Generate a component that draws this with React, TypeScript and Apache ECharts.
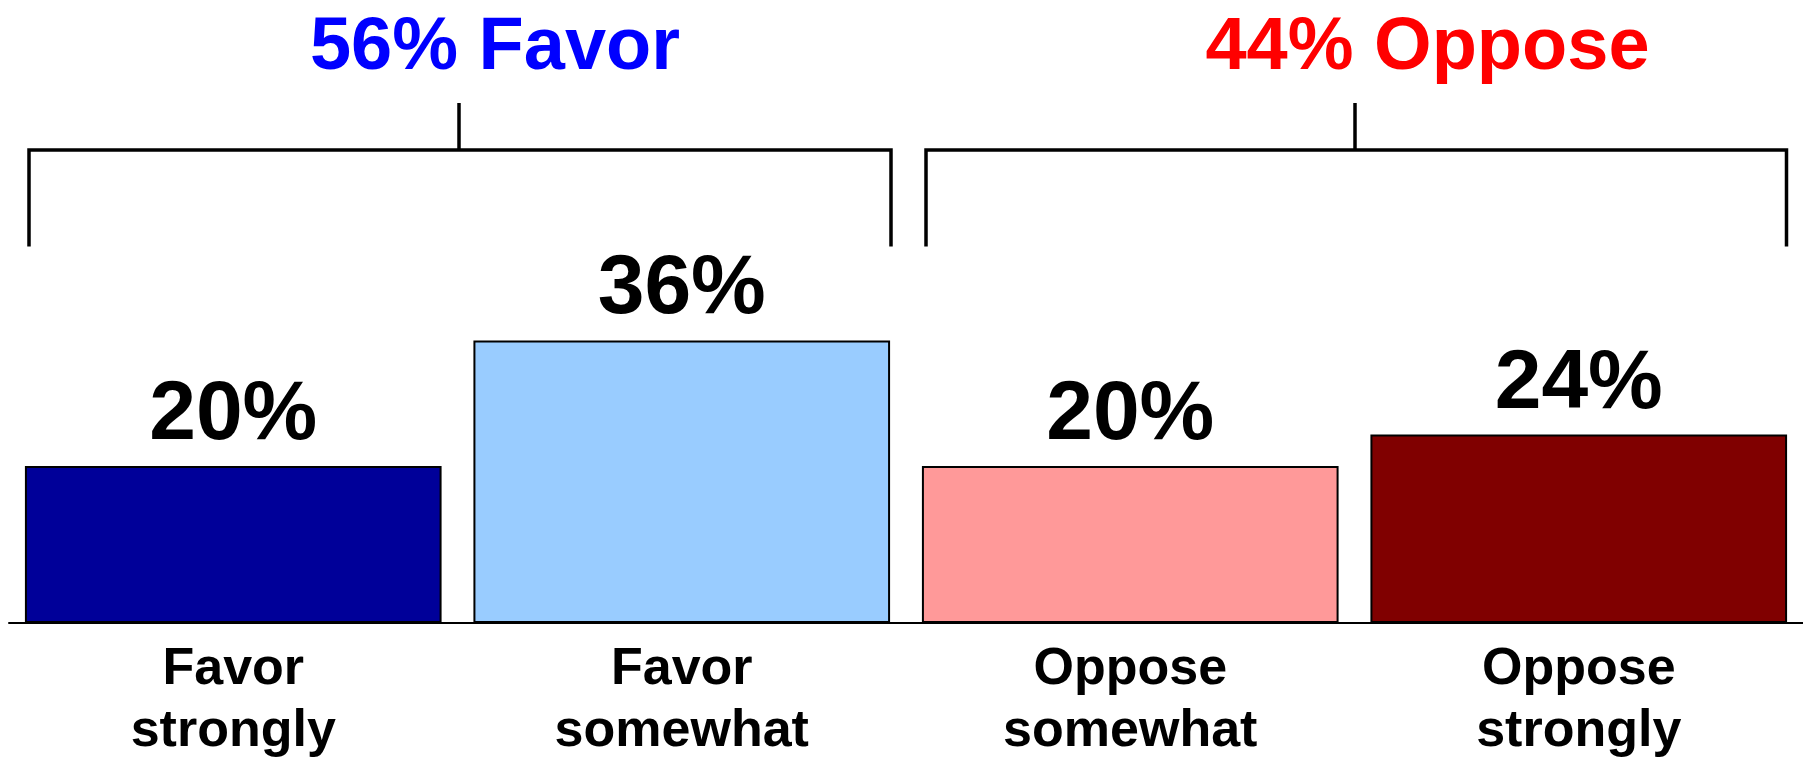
import React, { useEffect, useRef } from "react";
import * as echarts from "echarts";

const categories = ["Favor\nstrongly", "Favor\nsomewhat", "Oppose\nsomewhat", "Oppose\nstrongly"];
const values = [20, 36, 20, 24];
const barColors = ["#000099", "#99CCFF", "#FF9999", "#800000"];
const groupTitles = ["56% Favor", "44% Oppose"];
const groupColors = ["#0000FF", "#FF0000"];

const FONT = "'Liberation Sans', Arial, Helvetica, sans-serif";

export default function App() {
  const ref = useRef<HTMLDivElement>(null);

  useEffect(() => {
    if (!ref.current) return;
    const chart = echarts.init(ref.current, undefined, { renderer: "svg" });

    const lineStyle = { stroke: "#000", lineWidth: 3.5 };
    const bracket = (x1: number, x2: number, xc: number) => [
      {
        type: "polyline",
        shape: { points: [[x1, 246.5], [x1, 150], [x2, 150], [x2, 246.5]] },
        style: { ...lineStyle, fill: "none" },
      },
      {
        type: "line",
        shape: { x1: xc, y1: 103, x2: xc, y2: 150 },
        style: lineStyle,
      },
    ];

    chart.setOption({
      animation: false,
      backgroundColor: "#ffffff",
      grid: { left: 9, width: 1796, top: 230.5, bottom: 134.5, containLabel: false },
      xAxis: {
        type: "category",
        data: categories,
        axisTick: { show: false },
        axisLine: { show: true, lineStyle: { color: "#000", width: 2 } },
        axisLabel: {
          interval: 0,
          margin: 12,
          fontSize: 52,
          fontWeight: "bold",
          fontFamily: FONT,
          color: "#000",
          lineHeight: 62,
        },
      },
      yAxis: {
        type: "value",
        min: 0,
        max: 50,
        show: false,
        splitLine: { show: false },
      },
      series: [
        {
          type: "bar",
          data: values.map((v, i) => ({
            value: v,
            itemStyle: { color: barColors[i] },
          })),
          barCategoryGap: "7.1%",
          itemStyle: { borderColor: "#000", borderWidth: 2 },
          label: {
            show: true,
            position: "top",
            distance: 14,
            formatter: "{c}%",
            fontSize: 84,
            fontWeight: "bold",
            fontFamily: FONT,
            color: "#000",
          },
        },
      ],
      graphic: [
        ...bracket(29, 891, 459),
        ...bracket(926, 1786.5, 1355),
        {
          type: "text",
          x: 495,
          y: 43,
          style: {
            text: groupTitles[0],
            fill: groupColors[0],
            font: `bold 74px ${FONT}`,
            textAlign: "center",
            textVerticalAlign: "middle",
          },
        },
        {
          type: "text",
          x: 1427.5,
          y: 43,
          style: {
            text: groupTitles[1],
            fill: groupColors[1],
            font: `bold 74px ${FONT}`,
            textAlign: "center",
            textVerticalAlign: "middle",
          },
        },
      ],
    });

    return () => chart.dispose();
  }, []);

  return (
    <div
      ref={ref}
      style={{ position: "absolute", left: 0, top: 0, width: 1803, height: 759 }}
    />
  );
}
